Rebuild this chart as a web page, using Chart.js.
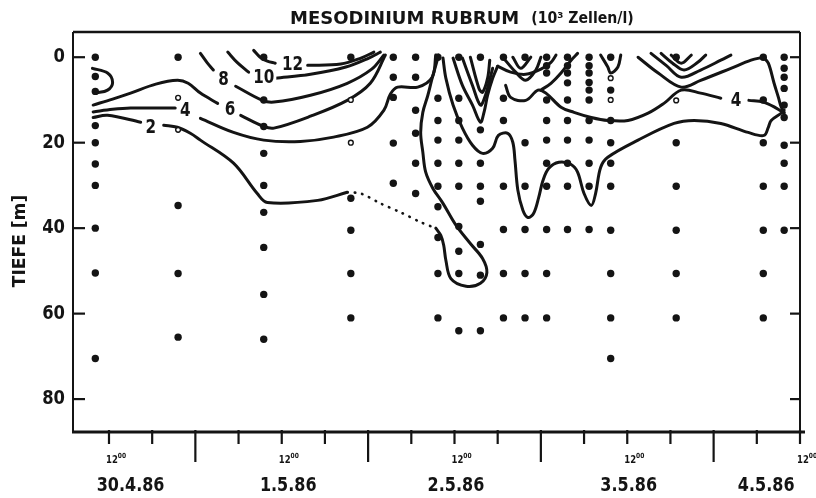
<!DOCTYPE html>
<html>
<head>
<meta charset="utf-8">
<script src="https://cdn.jsdelivr.net/npm/chart.js@4.4.1/dist/chart.umd.min.js"></script>
<style>
  body { margin: 0; background: #fff; }
  canvas { display: block; }
</style>
</head>
<body>
<canvas id="mesoChart" width="816" height="498"></canvas>
<script>
// Zeit in Stunden ab 30.4.86 0 Uhr, Tiefe in m
var stationHours = [10.1, 21.6, 33.5, 45.6, 51.5, 54.6, 57.7, 60.6, 63.6, 66.8, 69.8, 72.8, 75.7, 78.7, 81.7, 90.8, 102.9, 105.8];
var stationDepths = [
  [0, 4.5, 8, 16, 20, 25, 30, 40, 50.5, 70.5],
  [0, 34.7, 50.6, 65.5],
  [0, 5.4, 10, 16.2, 22.5, 30, 36.3, 44.5, 55.5, 66],
  [0, 33, 40.5, 50.6, 61],
  [0, 4.7, 9.4, 20.1, 29.5],
  [0, 4.7, 12.4, 17.8, 24.8, 31.9],
  [0, 9.6, 14.8, 19.4, 24.8, 30.2, 35, 42.2, 50.6, 61],
  [0, 9.6, 14.8, 19.4, 24.8, 30.2, 39.6, 45.4, 50.6, 64],
  [0, 17, 24.8, 30.2, 33.7, 43.8, 51, 64],
  [0, 9.6, 14.8, 30.2, 40.3, 50.6, 61],
  [0, 20, 30.2, 40.3, 50.6, 61],
  [0, 2, 3.7, 10, 14.8, 19.4, 24.8, 30.2, 40.3, 50.6, 61],
  [0, 2, 3.7, 6, 10, 14.8, 19.4, 24.8, 30.2, 40.3],
  [0, 2, 3.7, 5.9, 7.7, 10, 14.8, 19.4, 24.8, 30.2, 40.3],
  [0, 7.7, 14.8, 20, 24.8, 30.2, 40.5, 50.6, 61, 70.5],
  [0, 20, 30.2, 40.5, 50.6, 61],
  [0, 10, 20, 30.2, 40.5, 50.6, 61],
  [0, 2.6, 4.7, 7.3, 11.2, 14.1, 20.6, 24.8, 30.2, 40.5]
];
// offene Kreise
var openHours = [21.6, 21.6, 45.6, 45.6, 81.7, 81.7, 90.8];
var openDepths = [9.5, 17, 10, 20, 4.9, 10, 10.1];

// Isolinien (10^3 Zellen/l), Punkte [Stunde, Tiefe]
var iso12a = [[32.1,-1.6],[33.0,0],[34.0,0.9],[35.1,1.4]];
var iso12b = [[39.6,1.9],[44.2,1.6],[47.0,0.2],[48.8,-1.2]];
var iso10a = [[28.5,-1.2],[29.8,1.2],[31.4,3.5]];
var iso10b = [[35.1,4.9],[40.0,4.0],[44.9,2.3],[48.1,0.2],[49.7,-1.2]];
var iso8a = [[24.7,-0.9],[25.6,1.2],[26.5,3.0]];
var iso8b = [[29.6,6.8],[33.3,10.1],[34.9,10.5],[40.0,8.9],[45.1,6.1],[48.5,2.8],[50.2,-0.5]];
var iso6a = [[9.8,11.2],[12.5,9.8],[15.0,8.4],[18.5,6.3],[21.5,5.4],[23.0,6.1],[24.7,8.4],[27.1,10.8]];
var iso6b = [[30.3,13.6],[33.5,16.2],[34.9,16.6],[40.0,13.8],[45.1,10.1],[48.3,6.1],[50.4,-0.5]];
var iso4a = [[9.8,12.8],[12.5,12.2],[15.0,11.9],[21.2,11.9]];
var iso4b = [[24.7,14.3],[29.3,17.6],[33.5,19.4],[38.6,19.7],[43.2,18.7],[47.9,16.4],[50.2,12.4],[51.1,8.6],[52.1,7.0],[54.9,7.0],[56.9,4.7],[57.4,-0.5]];
var iso2a = [[9.8,14.1],[11.8,13.6],[16.4,15.2]];
var iso2b = [[19.6,15.9],[21.5,16.4],[23.3,17.8],[24.7,19.4],[29.3,24.8],[32.6,31.9],[34.0,34.0],[41.0,33.5],[45.1,31.6]];
var iso2dotted = [[45.1,31.6],[47.0,31.9],[49.7,34.2],[52.5,36.3],[55.3,38.6],[57.4,40.0]];
var iso2tongue = [[57.4,40.0],[58.1,41.7],[58.5,44.0],[58.8,47.5],[59.5,51.8],[61.6,53.6],[63.6,52.9],[64.5,50.4],[63.9,47.1],[62.2,43.6],[60.2,39.3],[58.4,34.2],[57.0,30.7],[56.0,26.9],[55.6,22.2],[55.3,17.6],[55.6,12.9],[56.3,8.9],[56.9,4.9],[57.8,-0.5]];
var iso2right = [[58.4,0.2],[58.8,4.9],[59.8,11.2],[61.1,16.6],[62.5,20.6],[63.9,22.5],[65.3,21.3],[66.1,18.3],[67.4,17.8],[68.1,19.9],[68.4,24.1],[68.8,31.1],[69.5,35.8],[70.2,37.5],[71.0,36.5],[71.7,32.8],[72.3,28.8],[73.1,26.0],[74.5,24.6],[76.2,25.1],[77.1,26.9],[78.0,31.9],[79.0,34.7],[79.6,31.9],[80.3,25.8],[81.3,23.4],[85.5,19.4],[90.5,15.5],[93.3,14.8],[97.0,15.5],[100.8,17.6],[103.0,18.3],[103.6,16.4],[104.0,14.8],[105.4,13.1],[105.8,12.4]];
var iso4right = [[67.1,6.6],[67.8,9.4],[69.9,10.1],[71.6,7.7],[72.7,8.4],[74.8,11.7],[76.6,12.9],[79.0,14.1],[81.3,14.8],[84.1,14.8],[86.9,13.1],[89.1,10.8],[91.5,7.7],[94.2,8.4],[97.0,9.6]];
var iso4rightEnd = [[100.9,10.1],[102.9,10.5],[104.7,11.9],[105.8,13.1]];
var iso4up = [[72.0,7.7],[73.4,6.1],[74.8,3.7],[76.2,0.7],[77.1,-0.9]];
var vee1 = [[59.8,0.2],[61.1,6.6],[62.5,11.2],[63.6,15.2],[64.1,12.9],[64.6,8.9],[65.3,4.9],[66.0,2.1]];
var vee2 = [[61.1,0.2],[62.5,6.6],[63.6,11.2],[64.3,8.9],[64.8,5.9],[65.3,2.6]];
var vee3 = [[62.2,0],[63.4,7.3],[63.9,8.2],[64.6,4.9],[64.9,0.7]];
var knotA = [[66.7,0],[68.5,3.5],[69.9,5.4],[71.3,3.0],[72.0,0]];
var knotB = [[68.1,0],[69.2,2.6],[70.6,0]];
var knotC = [[66.0,2.1],[67.8,3.5],[69.9,4.0],[72.0,2.8],[73.4,1.2],[74.1,-0.5]];
var ypsilon = [[80.3,-0.5],[81.3,2.3],[81.7,3.7],[82.7,2.3],[83.1,-0.5]];
var fanA = [[85.5,0],[88.3,3.7],[91.5,7.0],[94.2,5.4],[98.4,2.6],[101.2,0.7],[102.9,0]];
var fanB = [[87.3,-0.9],[89.4,1.9],[91.5,4.7],[94.2,3.0],[97.0,0.7],[98.4,-0.5]];
var fanC = [[88.7,-0.9],[90.3,1.4],[91.9,3.0],[93.8,1.2],[94.9,-0.5]];
var fanD = [[90.1,-0.5],[91.5,1.4],[92.9,-0.5]];
var rightEdge = [[102.9,0],[103.6,1.4],[104.4,6.1],[105.0,9.4],[105.4,11.7],[105.8,12.9]];
var leftLoop = [[9.7,2.6],[11.8,3.7],[12.5,5.9],[11.8,7.7],[10.1,8.4]];

var solidContours = [iso12a, iso12b, iso10a, iso10b, iso8a, iso8b, iso6a, iso6b, iso4a, iso4b,
  iso2a, iso2b, iso2tongue, iso2right, iso4right, iso4rightEnd, iso4up, vee1, vee2, vee3,
  knotA, knotB, knotC, ypsilon, fanA, fanB, fanC, fanD, rightEdge, leftLoop];

var contourLabels = ['12', '10', '8', '6', '4', '2', '4'];
var contourLabelHours = [37.5, 33.5, 27.9, 28.8, 22.6, 17.8, 99.1];
var contourLabelDepths = [1.9, 4.9, 5.4, 12.4, 12.6, 16.6, 10.3];

var depthTicks = [0, 20, 40, 60, 80];
var tickHours = [12, 18, 24, 30, 36, 42, 48, 54, 60, 66, 72, 78, 84, 90, 96, 102, 108];
var midnightHours = [24, 48, 72, 96];
var noonHours = [12, 36, 60, 84, 108];
var dateLabels = ['30.4.86', '1.5.86', '2.5.86', '3.5.86', '4.5.86'];
var dateLabelHours = [15.0, 36.9, 60.2, 84.2, 103.3];

var ink = '#141414';

function toPoints(arr) {
  return arr.map(function (p) { return { x: p[0], y: p[1] }; });
}

var datasets = [];
var dots = [];
stationHours.forEach(function (h, i) {
  stationDepths[i].forEach(function (d) { dots.push({ x: h, y: d }); });
});
datasets.push({ data: dots, pointRadius: 3.7, pointBackgroundColor: ink, pointBorderWidth: 0, showLine: false });
datasets.push({
  data: openHours.map(function (h, i) { return { x: h, y: openDepths[i] }; }),
  pointRadius: 2.4, pointBackgroundColor: '#fff', pointBorderColor: ink, pointBorderWidth: 1.4, showLine: false
});
solidContours.forEach(function (seg) {
  datasets.push({ data: toPoints(seg), showLine: true, borderColor: ink, borderWidth: 3, tension: 0.35, pointRadius: 0, borderCapStyle: 'round', borderJoinStyle: 'round' });
});
datasets.push({ data: toPoints(iso2dotted), showLine: true, borderColor: ink, borderWidth: 2.6, borderDash: [0.5, 7], borderCapStyle: 'round', tension: 0.3, pointRadius: 0 });

function squeezeText(c, txt, x, y, size, sx, align) {
  c.save();
  c.font = 'bold ' + size + 'px "DejaVu Sans"';
  c.textBaseline = 'middle';
  c.textAlign = 'left';
  var w = c.measureText(txt).width * sx;
  var left = align === 'center' ? x - w / 2 : (align === 'right' ? x - w : x);
  c.translate(left, y);
  c.scale(sx, 1);
  c.fillStyle = ink;
  c.fillText(txt, 0, 0);
  c.restore();
  return w;
}

var decor = {
  id: 'decor',
  afterDatasetsDraw: function (chart) {
    var c = chart.ctx, xs = chart.scales.x, ys = chart.scales.y;
    // Beschriftung der Isolinien
    contourLabels.forEach(function (t, i) {
      var px = xs.getPixelForValue(contourLabelHours[i]);
      var py = ys.getPixelForValue(contourLabelDepths[i]);
      c.save();
      c.font = 'bold 19px "DejaVu Sans"';
      var w = c.measureText(t).width * 0.8;
      c.fillStyle = '#fff';
      c.fillRect(px - w / 2 - 2, py - 8, w + 4, 16);
      c.restore();
      squeezeText(c, t, px, py, 19, 0.8, 'center');
    });
  },
  afterDraw: function (chart) {
    var c = chart.ctx, xs = chart.scales.x, ys = chart.scales.y, a = chart.chartArea;
    c.save();
    c.strokeStyle = ink;
    c.lineCap = 'butt';
    // Rahmen
    c.lineWidth = 2.5;
    c.beginPath(); c.moveTo(a.left, a.top); c.lineTo(a.right, a.top); c.stroke();
    c.lineWidth = 2;
    c.beginPath(); c.moveTo(a.left, a.top); c.lineTo(a.left, a.bottom); c.stroke();
    c.beginPath(); c.moveTo(a.right, a.top); c.lineTo(a.right, a.bottom); c.stroke();
    c.lineWidth = 3;
    c.beginPath(); c.moveTo(a.left - 1, a.bottom); c.lineTo(a.right + 5, a.bottom); c.stroke();
    // Tiefen-Ticks innen, beidseitig
    c.lineWidth = 2.2;
    depthTicks.forEach(function (d) {
      var py = ys.getPixelForValue(d);
      c.beginPath(); c.moveTo(a.left, py); c.lineTo(a.left + 12, py); c.stroke();
      c.beginPath(); c.moveTo(a.right, py); c.lineTo(a.right - 10, py); c.stroke();
      squeezeText(c, String(d), a.left - 8, py, 20, 0.82, 'right');
    });
    // Zeit-Ticks
    tickHours.forEach(function (h) {
      var px = xs.getPixelForValue(h);
      var len = midnightHours.indexOf(h) >= 0 ? 30 : 12;
      c.beginPath(); c.moveTo(px, a.bottom - 2); c.lineTo(px, a.bottom + len); c.stroke();
    });
    c.restore();
    // 12 Uhr Marken
    noonHours.forEach(function (h) {
      var px = xs.getPixelForValue(h) + 3;
      var w = squeezeText(c, '12', px - 6, 460, 10, 0.85, 'left');
      squeezeText(c, '00', px - 6 + w, 456, 7, 0.85, 'left');
    });
    // Datum
    dateLabels.forEach(function (t, i) {
      squeezeText(c, t, xs.getPixelForValue(dateLabelHours[i]), 486, 20, 0.8, 'center');
    });
    // Titel
    var w1 = squeezeText(c, 'MESODINIUM RUBRUM', 290, 19, 18, 1.0, 'left');
    squeezeText(c, '(10\u00b3 Zellen/l)', 290 + w1 + 12, 19, 16, 0.88, 'left');
    // Achsentitel
    c.save();
    c.translate(20, 241);
    c.rotate(-Math.PI / 2);
    squeezeText(c, 'TIEFE [m]', 0, 0, 18, 0.95, 'center');
    c.restore();
  }
};

var ctx = document.getElementById('mesoChart').getContext('2d');
var mesoChart = new Chart(ctx, {
  type: 'scatter',
  data: { datasets: datasets },
  options: {
    responsive: false,
    animation: false,
    devicePixelRatio: 1,
    layout: { padding: { top: 32, right: 16, left: 0, bottom: 0 } },
    plugins: { legend: { display: false }, tooltip: { enabled: false } },
    scales: {
      x: {
        type: 'linear', min: 7, max: 108,
        grid: { display: false }, border: { display: false },
        ticks: { display: false },
        afterFit: function (s) { s.height = 66; }
      },
      y: {
        type: 'linear', reverse: true, min: -5.9, max: 87.7,
        grid: { display: false }, border: { display: false },
        ticks: { display: false },
        afterFit: function (s) { s.width = 73; }
      }
    }
  },
  plugins: [decor]
});
</script>
</body>
</html>
